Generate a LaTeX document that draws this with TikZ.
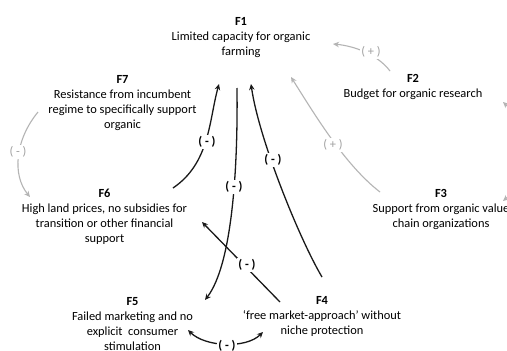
\documentclass[tikz,border=0pt]{standalone}
\usepackage{fontspec}
\setmainfont{Carlito}
\usetikzlibrary{arrows.meta}
\definecolor{lgray}{HTML}{B4B4B4}
\definecolor{tgray}{HTML}{A0A0A0}
\tikzset{
  factor/.style={align=center, inner sep=0pt, anchor=north, font=\fontsize{12.4}{15}\selectfont},
  blk/.style={draw=black!90, line width=1.3pt, -{Stealth[length=6pt,width=5.5pt,inset=2pt]}},
  gry/.style={draw=lgray, line width=1.1pt, -{Stealth[length=6pt,width=5.5pt,inset=2pt]}},
  lblk/.style={fill=white, inner sep=1.5pt, font=\fontsize{12.4}{15}\selectfont\bfseries},
  lgry/.style={fill=white, inner sep=1.5pt, text=tgray, font=\fontsize{12.4}{15}\selectfont},
}
\begin{document}
\begin{tikzpicture}[x=1pt,y=-1pt]
\useasboundingbox (0,0) rectangle (507,351);
\clip (0,0) rectangle (507,351);
\fill[white] (0,0) rectangle (507,351);

% factors
\node[factor] (f1) at (241,17) {\textbf{F1}\\Limited capacity for organic\\farming};
\node[factor] (f2) at (413,74) {\textbf{F2}\\Budget for organic research};
\node[factor] (f3) at (441,189) {\textbf{F3}\\Support from organic value\\chain organizations};
\node[factor] (f4) at (322,296) {\textbf{F4}\\‘free market-approach’ without\\niche protection};
\node[factor] (f5) at (132.5,297) {\textbf{F5}\\Failed marketing and no\\explicit\ \ consumer\\stimulation};
\node[factor] (f6) at (104.5,189) {\textbf{F6}\\High land prices, no subsidies for\\transition or other financial\\support};
\node[factor] (f7) at (122.5,75) {\textbf{F7}\\Resistance from incumbent\\regime to specifically support\\organic};

% connector end points
\coordinate (c61s) at (173,188);  \coordinate (c61e) at (219,84);
\coordinate (c15s) at (237,88);   \coordinate (c15e) at (205,300);
\coordinate (c41s) at (322,277);  \coordinate (c41e) at (251,84);
\coordinate (c46s) at (280,302);  \coordinate (c46e) at (202,222);
\coordinate (c45a) at (188,330);  \coordinate (c45b) at (263,332);
\coordinate (c21s) at (390,71);   \coordinate (c21e) at (333,44);
\coordinate (c31s) at (380,192);  \coordinate (c31e) at (291,77);
\coordinate (c76s) at (38,112);   \coordinate (c76e) at (30,197);
\coordinate (c23a) at (503,102);  \coordinate (c23b) at (503,201);

% black connectors
\draw[blk] (c61s) .. controls (210,163) and (209,120) .. (c61e);
\draw[blk] (c15s) .. controls (238,170) and (232,265) .. (c15e);
\draw[blk] (c41s) .. controls (300,240) and (259,140) .. (c41e);
\draw[blk] (c46s) -- (c46e);
\draw[blk, {Stealth[length=6pt,width=5.5pt,inset=2pt]}-{Stealth[length=6pt,width=5.5pt,inset=2pt]}]
  (c45a) .. controls (205,347) and (246,349) .. (c45b);

% grey connectors
\draw[gry] (c21s) .. controls (378,55) and (355,46) .. (c21e);
\draw[gry] (c31s) .. controls (345,165) and (315,115) .. (c31e);
\draw[gry] (c76s) .. controls (15,140) and (12,175) .. (c76e);
\draw[gry, {Stealth[length=6pt,width=5.5pt,inset=2pt]}-{Stealth[length=6pt,width=5.5pt,inset=2pt]}]
  (c23a) .. controls (528,125) and (528,180) .. (c23b);

% labels
\node[lblk] (l61) at (207,142) {( - )};
\node[lblk] (l15) at (234,187) {( - )};
\node[lblk] (l41) at (273,160) {( - )};
\node[lblk] (l46) at (247,265) {( - )};
\node[lblk] (l45) at (227,346) {( - )};
\node[lgry] (l21) at (371,52) {( + )};
\node[lgry] (l31) at (333,145) {( + )};
\node[lgry] (l76) at (18,152) {( - )};
\end{tikzpicture}
\end{document}
